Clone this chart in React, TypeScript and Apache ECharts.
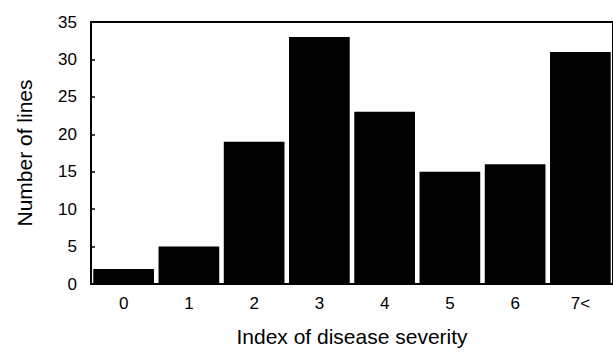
import React, { useEffect, useRef } from "react";
import * as echarts from "echarts";

const categories = ["0", "1", "2", "3", "4", "5", "6", "7<"];
const lineCounts = [2, 5, 19, 33, 23, 15, 16, 31];
const yTicks = [0, 5, 10, 15, 20, 25, 30, 35];

export default function App() {
  const ref = useRef<HTMLDivElement>(null);
  useEffect(() => {
    if (!ref.current) return;
    const chart = echarts.init(ref.current, null, { renderer: "svg" });
    const font = "Liberation Sans, Arial, sans-serif";
    chart.setOption({
      animation: false,
      backgroundColor: "#fff",
      grid: {
        left: 91,
        right: -6,
        top: 22,
        bottom: 64,
        show: true,
        borderColor: "#000",
        borderWidth: 2,
        backgroundColor: "transparent",
      },
      xAxis: {
        type: "category",
        data: categories,
        name: "Index of disease severity",
        nameLocation: "middle",
        nameGap: 42,
        nameTextStyle: { color: "#000", fontSize: 21, fontFamily: font },
        axisLine: { show: true, lineStyle: { color: "#000", width: 2 } },
        axisTick: { show: false },
        axisLabel: { color: "#000", fontSize: 17, fontFamily: font, margin: 11 },
      },
      yAxis: {
        type: "value",
        min: 0,
        max: 35,
        interval: 5,
        name: "Number of lines",
        nameLocation: "middle",
        nameGap: 56,
        nameTextStyle: { color: "#000", fontSize: 21, fontFamily: font },
        axisLine: { show: true, lineStyle: { color: "#000", width: 2 } },
        axisTick: { show: true, inside: true, length: 4, lineStyle: { color: "#000", width: 1.5 } },
        axisLabel: {
          color: "#000",
          fontSize: 17,
          fontFamily: font,
          margin: 14,
          formatter: (v: number) => (yTicks.includes(v) ? String(v) : ""),
        },
        splitLine: { show: false },
      },
      series: [
        {
          type: "bar",
          data: lineCounts,
          barCategoryGap: "7%",
          itemStyle: { color: "#000" },
        },
      ],
    });
    return () => chart.dispose();
  }, []);
  return <div ref={ref} style={{ width: 613, height: 352, position: "absolute", left: 0, top: 0 }} />;
}
